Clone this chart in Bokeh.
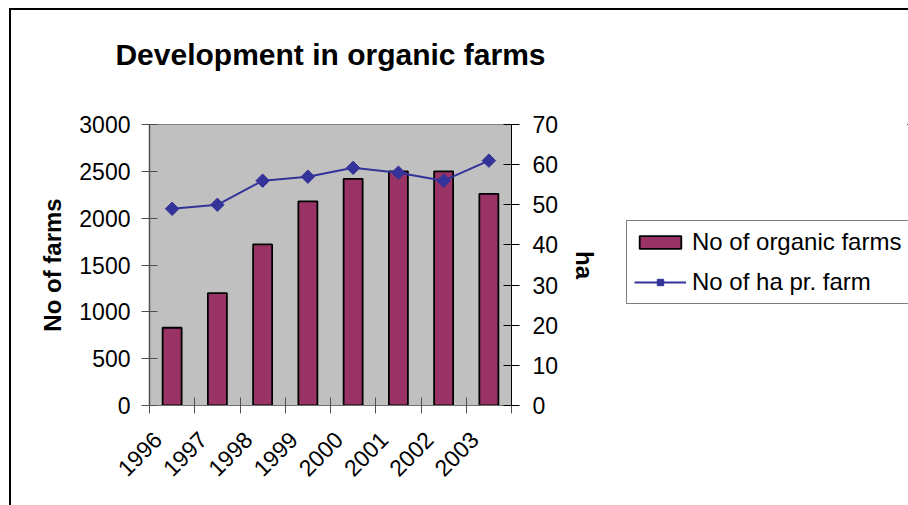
import math
from bokeh.plotting import figure
from bokeh.layouts import row
from bokeh.models import (Range1d, LinearAxis, Legend, LegendItem, FixedTicker)
from bokeh.embed import file_html
from bokeh.resources import INLINE

# ---- data ----
years = ["1996", "1997", "1998", "1999", "2000", "2001", "2002", "2003"]
organic_farms = [830, 1200, 1720, 2180, 2420, 2500, 2500, 2260]
ha_per_farm = [49, 50, 56, 57, 59.2, 58, 56, 61]
left_ticks = [0, 500, 1000, 1500, 2000, 2500, 3000]
right_ticks = [0, 10, 20, 30, 40, 50, 60, 70]

FONT = "Liberation Sans"
BAR_COLOR = "#993366"
LINE_COLOR = "#333399"
W1, W2, H = 600, 297, 495
ML, MR, MT, MB = 138, 100, 114, 100

n = len(years)
xc = [i + 0.5 for i in range(n)]           # category centres
label_pos = [i + 0.18 for i in range(n)]   # anchor of the rotated year labels

p = figure(width=W1, height=H, x_range=Range1d(0, n), y_range=Range1d(0, 3000),
           output_backend="svg", toolbar_location=None, x_axis_location=None,
           y_axis_location="left",
           min_border_left=ML, min_border_right=MR, min_border_top=MT, min_border_bottom=MB)
p.background_fill_color = "#C0C0C0"
p.border_fill_color = "white"
p.outline_line_color = "#808080"
p.outline_line_width = 1
p.grid.visible = False
p.extra_y_ranges = {"ha": Range1d(0, 70)}

# chart title, carried by a tick-less axis above the plot area
top = LinearAxis(ticker=FixedTicker(ticks=[]))
top.axis_line_color = None
top.major_tick_line_color = None
top.minor_tick_line_color = None
top.major_tick_out = 0
top.major_tick_in = 0
top.major_label_standoff = 0
top.axis_label = "Development in organic farms"
top.axis_label_text_font = FONT
top.axis_label_text_font_style = "bold"
top.axis_label_text_font_size = "30px"
top.axis_label_text_color = "black"
top.axis_label_standoff = 54
p.add_layout(top, "above")

# category boundary ticks (closest to frame, no labels drawn)
bx = LinearAxis(ticker=FixedTicker(ticks=list(range(n + 1))))
bx.major_label_text_font_size = "1px"
bx.major_label_text_color = None
bx.major_label_standoff = 0
bx.major_tick_in = 8
bx.major_tick_out = 8
bx.minor_tick_line_color = None
bx.axis_line_color = "#707070"
bx.major_tick_line_color = "#505050"
p.add_layout(bx, "below")

# rotated year labels
cx = LinearAxis(ticker=FixedTicker(ticks=label_pos),
                major_label_overrides={pos: y for pos, y in zip(label_pos, years)})
cx.axis_line_color = None
cx.major_tick_line_color = None
cx.minor_tick_line_color = None
cx.major_tick_out = 0
cx.major_tick_in = 0
cx.major_label_orientation = math.pi / 4
cx.major_label_standoff = 22
cx.major_label_text_font = FONT
cx.major_label_text_font_size = "23px"
cx.major_label_text_color = "black"
p.add_layout(cx, "below")

# left axis
ly = p.yaxis[0]
ly.ticker = FixedTicker(ticks=left_ticks)
ly.axis_label = "No of farms"
ly.axis_label_text_font = FONT
ly.axis_label_text_font_style = "bold"
ly.axis_label_text_font_size = "24px"
ly.axis_label_text_color = "black"
ly.axis_label_standoff = 10
ly.major_label_text_font = FONT
ly.major_label_text_font_size = "23px"
ly.major_label_text_color = "black"
ly.major_label_standoff = 11
ly.major_tick_in = 8
ly.major_tick_out = 8
ly.minor_tick_line_color = None
ly.axis_line_color = "#505050"
ly.axis_line_width = 1.5
ly.major_tick_line_color = "#505050"

# right axis
ry = LinearAxis(y_range_name="ha", ticker=FixedTicker(ticks=right_ticks))
ry.axis_label = "ha"
ry.axis_label_text_font = FONT
ry.axis_label_text_font_style = "bold"
ry.axis_label_text_font_size = "24px"
ry.axis_label_text_color = "black"
ry.axis_label_standoff = 10
ry.major_label_text_font = FONT
ry.major_label_text_font_size = "23px"
ry.major_label_text_color = "black"
ry.major_label_standoff = 13
ry.major_tick_in = 8
ry.major_tick_out = 8
ry.minor_tick_line_color = None
ry.axis_line_color = "black"
ry.major_tick_line_color = "black"
p.add_layout(ry, "right")

p.vbar(x=xc, top=organic_farms, width=0.42, fill_color=BAR_COLOR,
       line_color="black", line_width=1.8)
p.line(x=xc, y=ha_per_farm, y_range_name="ha", line_color=LINE_COLOR, line_width=2)
p.scatter(x=xc, y=ha_per_farm, y_range_name="ha", marker="square", angle=math.pi / 4,
          size=9.5, fill_color=LINE_COLOR, line_color=LINE_COLOR)

# ---- legend panel (right of the chart); its own renderers lie outside its view ----
p2 = figure(width=W2, height=H, x_range=Range1d(-2, -1), y_range=Range1d(-2, -1),
            output_backend="svg", toolbar_location=None, x_axis_location=None,
            y_axis_location=None, min_border=0)
p2.grid.visible = False
p2.outline_line_color = None
p2.background_fill_color = "white"
p2.border_fill_color = "white"
lb = p2.vbar(x=xc, top=organic_farms, width=0.42, fill_color=BAR_COLOR,
             line_color="black", line_width=1.8)
ll = p2.line(x=xc, y=ha_per_farm, line_color=LINE_COLOR, line_width=2)
lm = p2.scatter(x=xc, y=ha_per_farm, marker="square", angle=math.pi / 4, size=9.5,
                fill_color=LINE_COLOR, line_color=LINE_COLOR)

legend = Legend(items=[LegendItem(label="No of organic farms", renderers=[lb]),
                       LegendItem(label="No of ha pr. farm", renderers=[ll, lm])],
                location=(15, 101))
legend.label_text_font = FONT
legend.label_text_font_size = "24px"
legend.label_text_color = "black"
legend.label_width = 215
legend.glyph_width = 52
legend.glyph_height = 16
legend.label_height = 28
legend.spacing = 12
legend.padding = 7
legend.margin = 0
legend.label_standoff = 6
legend.border_line_color = "black"
legend.border_line_width = 1
legend.background_fill_color = "white"
legend.background_fill_alpha = 1
p2.add_layout(legend)

layout = row(p, p2, spacing=0)
layout.styles = {"margin-left": "9px", "margin-top": "8px",
                 "border-left": "2px solid black", "border-top": "2px solid black"}

open("out.html", "w").write(file_html(layout, INLINE))
